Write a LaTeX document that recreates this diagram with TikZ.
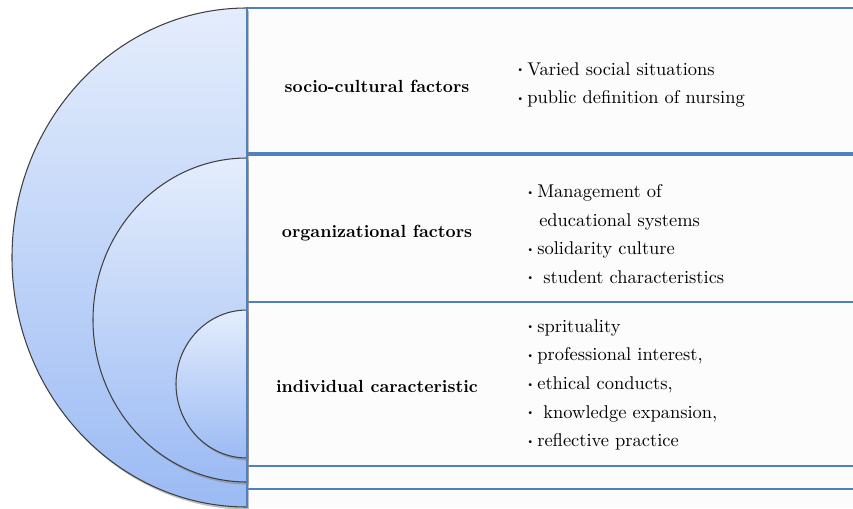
\documentclass[tikz,border=0pt]{standalone}
\usetikzlibrary{positioning,shadows}
\definecolor{rowblue}{HTML}{4F81BD}
\definecolor{ringtop}{HTML}{E4EDFC}
\definecolor{ringbot}{HTML}{9CBBF4}
\newcommand{\itm}{\raisebox{0.3ex}{\scalebox{0.55}{\textbullet}}\,}
\tikzset{
	ring/.style={top color=ringtop,bottom color=ringbot,draw=black!75,line width=0.6pt,
		drop shadow={shadow xshift=1pt,shadow yshift=-1.5pt,opacity=0.5}},
	rowline/.style={color=rowblue, line width=0.9pt},
	thickrow/.style={color=rowblue, line width=1.8pt},
	factor/.style={font=\fontsize{10}{14}\selectfont\bfseries, text centered},
	itemlist/.style={font=\fontsize{10.5}{16.3}\selectfont, align=left, anchor=west, inner sep=0pt}
}

\begin{document}
\begin{tikzpicture}[x=0.02cm,y=-0.02cm]
	\useasboundingbox (0,0) rectangle (853,508);
	%%%rows
	\fill[black!1] (247,8) rectangle (853,508);
	\draw[rowline] (247,8) -- (853,8);
	\draw[thickrow] (247,154) -- (853,154);
	\draw[rowline] (247,302) -- (853,302);
	\draw[rowline] (247,466) -- (853,466);
	\draw[rowline] (247,489) -- (853,489);
	
	%%%% rings
	\draw[ring] (247,8) arc[start angle=270,end angle=90,x radius=235,y radius=249.5] -- cycle;
	\draw[ring] (247,158) arc[start angle=270,end angle=90,x radius=154,y radius=162] -- cycle;
	\draw[ring] (247,310) arc[start angle=270,end angle=90,x radius=71,y radius=74] -- cycle;
	\draw[rowline] (247,8) -- (247,508);
	
	%%%% labels
	\node[factor] (soc) at (377,86) {socio-cultural factors};
	\node[factor] (org) at (377,233) {organizational factors};
	\node[factor] (ind) at (377,386) {individual caracteristic};
	
	\node[itemlist] (socitems) at (516,85) {\itm Varied social situations\\\itm public definition of nursing};
	\node[itemlist] (orgitems) at (526,234) {\itm Management of\\\hspace{0.7em}educational systems\\\itm solidarity culture\\\itm\ student characteristics};
	\node[itemlist] (inditems) at (526,385) {\itm sprituality\\\itm professional interest,\\\itm ethical conducts,\\\itm\ knowledge expansion,\\\itm reflective practice};
	
\end{tikzpicture}
\end{document}
